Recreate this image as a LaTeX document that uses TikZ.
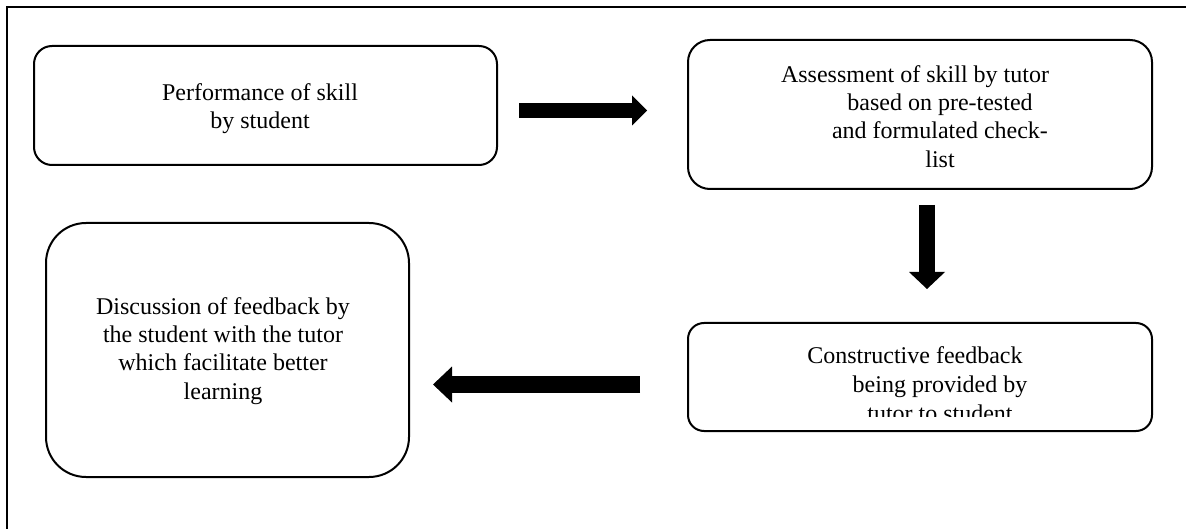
\documentclass[tikz,border=0pt]{standalone}
\usepackage{fontspec}
\setmainfont{Liberation Serif}
\usetikzlibrary{arrows.meta}
\begin{document}
\begin{tikzpicture}[x=1pt,y=-1pt,
  box/.style={draw, line width=2pt, inner sep=0pt, outer sep=0pt},
  txt/.style={align=center, inner sep=0pt, anchor=north, font=\fontsize{24}{28.3}\selectfont},
  frameline/.style={line width=1.5pt}]
\useasboundingbox (0,0) rectangle (1186,529);
% outer frame (top and left only)
\coordinate (fbl) at (7,529);
\coordinate (ftl) at (7,7);
\coordinate (ftr) at (1186,7);
\draw[frameline] (fbl) -- (ftl) -- (ftr);
% boxes
\node[box, rounded corners=18pt, minimum width=463pt, minimum height=119pt] (b1) at (265.5,105.5) {};
\node[box, rounded corners=22pt, minimum width=464pt, minimum height=149pt] (b2) at (920,114.5) {};
\node[box, rounded corners=40pt, minimum width=363pt, minimum height=254pt] (b3) at (227.5,350) {};
\node[box, rounded corners=16pt, minimum width=464pt, minimum height=108pt] (b4) at (920,377) {};
% texts
\node[txt] (t1) at (260,80.2) {\strut Performance of skill\\by student};
\node[txt] (t2) at (915,62.2) {\strut Assessment of skill by tutor\\\hspace*{50pt}based on pre-tested\\\hspace*{50pt}and formulated check-\\\hspace*{50pt}list};
\node[txt] (t3) at (223,294.2) {\strut Discussion of feedback by\\the student with the tutor\\which facilitate better\\learning};
\begin{scope}
\clip (690,325) rectangle (1150,416);
\node[txt, font=\fontsize{24}{29.3}\selectfont] (t4) at (915,342.5) {\strut Constructive feedback\\\hspace*{50pt}being provided by\\\hspace*{50pt}tutor to student};
\end{scope}
% block arrows
\coordinate (a1s) at (519,110.5);
\coordinate (a1e) at (647,110.5);
\coordinate (a2s) at (927,205);
\coordinate (a2e) at (927,289);
\coordinate (a3s) at (640,384.5);
\coordinate (a3e) at (433,384.5);
\draw[line width=15pt, -{Triangle[width=30pt,length=15pt,line width=0pt 0 0]}] (a1s) -- (a1e);
\draw[line width=16pt, -{Triangle[width=36pt,length=17pt,line width=0pt 0 0]}] (a2s) -- (a2e);
\draw[line width=17pt, -{Triangle[width=36pt,length=19pt,line width=0pt 0 0]}] (a3s) -- (a3e);
\end{tikzpicture}
\end{document}
